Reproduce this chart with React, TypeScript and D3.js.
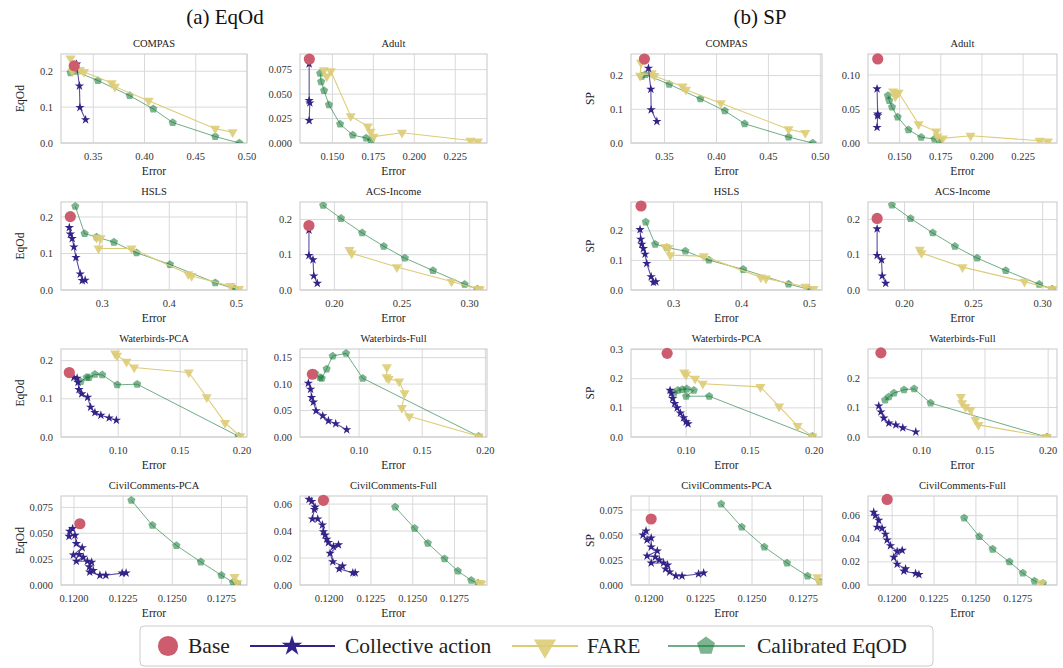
import * as d3 from "d3";

type Pt = [number, number];

// ---------- (a) EqOd ----------
const compasEqBase: Pt[] = [[0.3314, 0.215]];
const compasEqCA: Pt[] = [[0.3337, 0.22], [0.3365, 0.159], [0.337, 0.099], [0.3425, 0.065]];
const compasEqFare: Pt[] = [[0.3278, 0.236], [0.3295, 0.2], [0.337, 0.204], [0.341, 0.198], [0.368, 0.167], [0.371, 0.157], [0.404, 0.118], [0.469, 0.04], [0.486, 0.03]];
const compasEqCal: Pt[] = [[0.3278, 0.196], [0.3325, 0.2], [0.3545, 0.174], [0.3855, 0.132], [0.4085, 0.095], [0.4275, 0.057], [0.469, 0.018], [0.4925, 0.0]];

const adultEqBase: Pt[] = [[0.1359, 0.0858]];
const adultEqCA: Pt[] = [[0.1358, 0.081], [0.1358, 0.0435], [0.1362, 0.041], [0.1358, 0.023]];
const adultEqFare: Pt[] = [[0.1448, 0.0745], [0.1465, 0.068], [0.149, 0.0735], [0.1612, 0.0275], [0.1716, 0.017], [0.1733, 0.0115], [0.1752, 0.0065], [0.1925, 0.0105], [0.2343, 0.0025], [0.2388, 0.0015]];
const adultEqCal: Pt[] = [[0.1425, 0.0712], [0.1431, 0.0627], [0.1449, 0.0536], [0.1479, 0.039], [0.1547, 0.0193], [0.1624, 0.0081], [0.1706, 0.0051], [0.1736, 0.0024]];

const hslsEqBase: Pt[] = [[0.2524, 0.201]];
const hslsEqCA: Pt[] = [[0.2509, 0.171], [0.2525, 0.153], [0.2552, 0.141], [0.2578, 0.118], [0.2608, 0.089], [0.2672, 0.044], [0.2702, 0.026], [0.2745, 0.027]];
const hslsEqFare: Pt[] = [[0.2916, 0.1436], [0.2975, 0.142], [0.2945, 0.1136], [0.3437, 0.1136], [0.4283, 0.0436], [0.4333, 0.0385], [0.4913, 0.011], [0.504, 0.003]];
const hslsEqCal: Pt[] = [[0.2598, 0.229], [0.2737, 0.1545], [0.2916, 0.145], [0.3174, 0.131], [0.3512, 0.102], [0.401, 0.07], [0.4685, 0.02], [0.498, 0.0027]];

const acsEqBase: Pt[] = [[0.1812, 0.1829]];
const acsEqCA: Pt[] = [[0.1812, 0.17], [0.1812, 0.098], [0.1842, 0.086], [0.1848, 0.04], [0.1874, 0.019]];
const acsEqFare: Pt[] = [[0.2112, 0.114], [0.2128, 0.104], [0.2462, 0.065], [0.2866, 0.024], [0.3062, 0.003], [0.3075, 0.002]];
const acsEqCal: Pt[] = [[0.1917, 0.24], [0.2049, 0.203], [0.2205, 0.162], [0.2365, 0.124], [0.2521, 0.0905], [0.2729, 0.0552], [0.2963, 0.0162], [0.3057, 0.0029]];

const wbPcaEqBase: Pt[] = [[0.0605, 0.1687]];
const wbPcaEqCA: Pt[] = [[0.0642, 0.156], [0.0668, 0.154], [0.0675, 0.143], [0.0683, 0.124], [0.0705, 0.113], [0.0753, 0.104], [0.0777, 0.078], [0.0812, 0.064], [0.086, 0.057], [0.0927, 0.05], [0.0985, 0.044]];
const wbPcaEqFare: Pt[] = [[0.0975, 0.219], [0.099, 0.213], [0.1067, 0.197], [0.1129, 0.182], [0.157, 0.169], [0.1715, 0.104], [0.1863, 0.037], [0.1985, 0.002]];
const wbPcaEqCal: Pt[] = [[0.0697, 0.145], [0.0745, 0.1565], [0.0764, 0.1557], [0.0812, 0.1643], [0.0871, 0.1626], [0.0992, 0.1365], [0.1153, 0.1383], [0.1973, 0.0017]];

const wbFullEqBase: Pt[] = [[0.063, 0.1186]];
const wbFullEqCA: Pt[] = [[0.0598, 0.1016], [0.0616, 0.0903], [0.0624, 0.0747], [0.0638, 0.0659], [0.0659, 0.0496], [0.0712, 0.0401], [0.0757, 0.0307], [0.0815, 0.0251], [0.0902, 0.0138]];
const wbFullEqFare: Pt[] = [[0.122, 0.132], [0.1218, 0.113], [0.1235, 0.11], [0.1317, 0.105], [0.136, 0.083], [0.1339, 0.055], [0.1397, 0.039], [0.1947, 0.0013]];
const wbFullEqCal: Pt[] = [[0.0651, 0.1205], [0.0691, 0.1123], [0.0704, 0.111], [0.0743, 0.1286], [0.0791, 0.1531], [0.0897, 0.1581], [0.1029, 0.111], [0.1947, 0.0013]];

const ccPcaEqBase: Pt[] = [[0.1203, 0.0592]];
const ccPcaEqCA: Pt[] = [[0.11993, 0.0545], [0.11978, 0.052], [0.11975, 0.047], [0.12005, 0.048], [0.12012, 0.04], [0.12042, 0.036], [0.11997, 0.029], [0.12027, 0.0295], [0.12047, 0.0268], [0.12012, 0.023], [0.12068, 0.023], [0.1209, 0.022], [0.12078, 0.0175], [0.12098, 0.014], [0.1208, 0.0125], [0.12132, 0.0094], [0.12162, 0.0094], [0.12245, 0.0115], [0.12265, 0.0116]];
const ccPcaEqFare: Pt[] = [[0.12817, 0.0078], [0.1283, 0.0019]];
const ccPcaEqCal: Pt[] = [[0.12292, 0.0818], [0.12399, 0.0576], [0.12521, 0.0382], [0.12645, 0.0223], [0.1275, 0.0094], [0.12809, 0.0026], [0.1283, 0.0013]];

const ccFullEqBase: Pt[] = [[0.11966, 0.0628]];
const ccFullEqCA: Pt[] = [[0.1188, 0.0635], [0.11896, 0.062], [0.11916, 0.0578], [0.11912, 0.056], [0.119, 0.049], [0.11932, 0.049], [0.1196, 0.0445], [0.11966, 0.0395], [0.11976, 0.037], [0.11986, 0.034], [0.11996, 0.0315], [0.12026, 0.0285], [0.12056, 0.0298], [0.12006, 0.0235], [0.12022, 0.0173], [0.1208, 0.014], [0.1206, 0.012], [0.12142, 0.009], [0.12156, 0.009]];
const ccFullEqFare: Pt[] = [[0.12898, 0.0015], [0.1291, 0.001]];
const ccFullEqCal: Pt[] = [[0.12395, 0.0578], [0.12511, 0.042], [0.1259, 0.031], [0.1269, 0.0195], [0.1277, 0.0103], [0.1285, 0.0035], [0.1289, 0.0015]];

// ---------- (b) SP ----------
const compasSpBase: Pt[] = [[0.3306, 0.249]];
const compasSpCA: Pt[] = [[0.3345, 0.2217], [0.3368, 0.1596], [0.3371, 0.0985], [0.3426, 0.064]];
const compasSpFare: Pt[] = [[0.3274, 0.238], [0.3265, 0.2], [0.3377, 0.207], [0.3403, 0.199], [0.3674, 0.1675], [0.3706, 0.158], [0.4042, 0.118], [0.4694, 0.041], [0.4855, 0.03]];
const compasSpCal: Pt[] = [[0.328, 0.198], [0.3315, 0.203], [0.3545, 0.1744], [0.3845, 0.131], [0.408, 0.0956], [0.4271, 0.0571], [0.4694, 0.0177], [0.4926, 0]];

const adultSpBase: Pt[] = [[0.1367, 0.1234]];
const adultSpCA: Pt[] = [[0.1363, 0.0795], [0.1367, 0.0424], [0.1367, 0.04], [0.1363, 0.0229]];
const adultSpFare: Pt[] = [[0.146, 0.0756], [0.1474, 0.0683], [0.148, 0.0732], [0.1494, 0.0741], [0.1615, 0.0278], [0.1722, 0.0171], [0.173, 0.0098], [0.1762, 0.0068], [0.1931, 0.0107], [0.2351, 0.0034], [0.2401, 0.0024]];
const adultSpCal: Pt[] = [[0.1429, 0.0698], [0.1437, 0.0624], [0.1454, 0.0527], [0.1488, 0.038], [0.1554, 0.0195], [0.1631, 0.0083], [0.1712, 0.0059], [0.1742, 0.0034]];

const hslsSpBase: Pt[] = [[0.2521, 0.2843]];
const hslsSpCA: Pt[] = [[0.2506, 0.2045], [0.2516, 0.172], [0.2531, 0.155], [0.2555, 0.1404], [0.258, 0.1213], [0.2605, 0.0899], [0.2669, 0.0449], [0.2704, 0.0258], [0.2738, 0.028]];
const hslsSpFare: Pt[] = [[0.2877, 0.146], [0.2926, 0.1427], [0.2951, 0.118], [0.3444, 0.1146], [0.4284, 0.0427], [0.4358, 0.0393], [0.4941, 0.0112], [0.5059, 0.0034]];
const hslsSpCal: Pt[] = [[0.259, 0.2303], [0.2728, 0.155], [0.2901, 0.1438], [0.3173, 0.1315], [0.3519, 0.1011], [0.4025, 0.0697], [0.4691, 0.0202], [0.499, 0.0022]];

const acsSpBase: Pt[] = [[0.1802, 0.2029]];
const acsSpCA: Pt[] = [[0.1802, 0.1733], [0.1802, 0.098], [0.1834, 0.0857], [0.1839, 0.04], [0.1864, 0.019]];
const acsSpFare: Pt[] = [[0.2111, 0.1143], [0.2123, 0.1048], [0.242, 0.0648], [0.2869, 0.0238], [0.3069, 0.0029]];
const acsSpCal: Pt[] = [[0.1909, 0.241], [0.2044, 0.2029], [0.2205, 0.162], [0.2365, 0.1238], [0.2526, 0.0905], [0.2733, 0.0552], [0.2975, 0.0162], [0.3069, 0.0029]];

const wbPcaSpBase: Pt[] = [[0.0852, 0.287]];
const wbPcaSpCA: Pt[] = [[0.0875, 0.16], [0.0885, 0.15], [0.0895, 0.132], [0.091, 0.115], [0.093, 0.1], [0.0955, 0.082], [0.098, 0.066], [0.1, 0.052], [0.1015, 0.045]];
const wbPcaSpFare: Pt[] = [[0.0985, 0.222], [0.1, 0.215], [0.107, 0.2], [0.113, 0.183], [0.158, 0.172], [0.1725, 0.105], [0.187, 0.038], [0.1985, 0.002]];
const wbPcaSpCal: Pt[] = [[0.0905, 0.15], [0.0935, 0.16], [0.097, 0.163], [0.1005, 0.165], [0.106, 0.16], [0.1, 0.14], [0.118, 0.14], [0.1985, 0.002]];

const wbFullSpBase: Pt[] = [[0.0677, 0.285]];
const wbFullSpCA: Pt[] = [[0.066, 0.105], [0.0677, 0.085], [0.07, 0.064], [0.074, 0.047], [0.0795, 0.041], [0.085, 0.031], [0.0953, 0.017]];
const wbFullSpFare: Pt[] = [[0.131, 0.136], [0.132, 0.115], [0.1346, 0.102], [0.1386, 0.092], [0.1425, 0.058], [0.1449, 0.041], [0.199, 0.0]];
const wbFullSpCal: Pt[] = [[0.071, 0.125], [0.074, 0.136], [0.078, 0.149], [0.086, 0.16], [0.094, 0.163], [0.107, 0.115], [0.199, 0.0]];

const ccPcaSpBase: Pt[] = [[0.1201, 0.066]];
const ccPcaSpCA: Pt[] = [[0.11985, 0.054], [0.1197, 0.05], [0.1199, 0.045], [0.1201, 0.047], [0.1201, 0.038], [0.1204, 0.034], [0.1199, 0.029], [0.1203, 0.028], [0.1205, 0.025], [0.1201, 0.022], [0.1207, 0.022], [0.1209, 0.02], [0.1208, 0.016], [0.121, 0.013], [0.1213, 0.009], [0.1216, 0.009], [0.1224, 0.011], [0.12265, 0.012]];
const ccPcaSpFare: Pt[] = [[0.12817, 0.0078], [0.1283, 0.002]];
const ccPcaSpCal: Pt[] = [[0.1235, 0.081], [0.1245, 0.058], [0.1256, 0.038], [0.1267, 0.022], [0.1277, 0.009], [0.1283, 0.003]];

const ccFullSpBase: Pt[] = [[0.1197, 0.074]];
const ccFullSpCA: Pt[] = [[0.1189, 0.063], [0.119, 0.06], [0.1192, 0.056], [0.1191, 0.05], [0.1194, 0.049], [0.1196, 0.044], [0.1197, 0.039], [0.1199, 0.034], [0.1203, 0.029], [0.1206, 0.03], [0.1201, 0.024], [0.1203, 0.018], [0.1208, 0.014], [0.1207, 0.012], [0.1214, 0.01], [0.1216, 0.009]];
const ccFullSpFare: Pt[] = [[0.1289, 0.0015]];
const ccFullSpCal: Pt[] = [[0.1243, 0.058], [0.1252, 0.042], [0.126, 0.031], [0.127, 0.02], [0.1278, 0.0103], [0.1285, 0.0035], [0.129, 0.0015]];

interface Panel {
  title: string;
  metric: string;
  col: number;
  row: number;
  xDomain: [number, number];
  yDomain: [number, number];
  xTicks: number[];
  yTicks: number[];
  xFmt: string;
  yFmt: string;
  base: Pt[];
  ca: Pt[];
  fare: Pt[];
  cal: Pt[];
}

const ticksCompas = [0.35, 0.4, 0.45, 0.5];
const ticksAdult = [0.15, 0.175, 0.2, 0.225];
const ticksHsls = [0.3, 0.4, 0.5];
const ticksAcs = [0.2, 0.25, 0.3];
const ticksWb = [0.1, 0.15, 0.2];
const ticksCc = [0.12, 0.1225, 0.125, 0.1275];

const panels: Panel[] = [
  { title: "COMPAS", metric: "EqOd", col: 0, row: 0, xDomain: [0.3185, 0.5], yDomain: [0, 0.248], xTicks: ticksCompas, yTicks: [0, 0.1, 0.2], xFmt: ".2f", yFmt: ".1f", base: compasEqBase, ca: compasEqCA, fare: compasEqFare, cal: compasEqCal },
  { title: "Adult", metric: "EqOd", col: 1, row: 0, xDomain: [0.1302, 0.2444], yDomain: [0, 0.091], xTicks: ticksAdult, yTicks: [0, 0.025, 0.05, 0.075], xFmt: ".3f", yFmt: ".3f", base: adultEqBase, ca: adultEqCA, fare: adultEqFare, cal: adultEqCal },
  { title: "HSLS", metric: "EqOd", col: 0, row: 1, xDomain: [0.2385, 0.5159], yDomain: [0, 0.241], xTicks: ticksHsls, yTicks: [0, 0.1, 0.2], xFmt: ".1f", yFmt: ".1f", base: hslsEqBase, ca: hslsEqCA, fare: hslsEqFare, cal: hslsEqCal },
  { title: "ACS-Income", metric: "EqOd", col: 1, row: 1, xDomain: [0.1746, 0.3128], yDomain: [0, 0.2495], xTicks: ticksAcs, yTicks: [0, 0.1, 0.2], xFmt: ".2f", yFmt: ".1f", base: acsEqBase, ca: acsEqCA, fare: acsEqFare, cal: acsEqCal },
  { title: "Waterbirds-PCA", metric: "EqOd", col: 0, row: 2, xDomain: [0.0538, 0.204], yDomain: [0, 0.2304], xTicks: ticksWb, yTicks: [0, 0.1, 0.2], xFmt: ".2f", yFmt: ".1f", base: wbPcaEqBase, ca: wbPcaEqCA, fare: wbPcaEqFare, cal: wbPcaEqCal },
  { title: "Waterbirds-Full", metric: "EqOd", col: 1, row: 2, xDomain: [0.0532, 0.2013], yDomain: [0, 0.1663], xTicks: ticksWb, yTicks: [0, 0.05, 0.1, 0.15], xFmt: ".2f", yFmt: ".2f", base: wbFullEqBase, ca: wbFullEqCA, fare: wbFullEqFare, cal: wbFullEqCal },
  { title: "CivilComments-PCA", metric: "EqOd", col: 0, row: 3, xDomain: [0.11934, 0.1288], yDomain: [0, 0.086], xTicks: ticksCc, yTicks: [0, 0.025, 0.05, 0.075], xFmt: ".4f", yFmt: ".3f", base: ccPcaEqBase, ca: ccPcaEqCA, fare: ccPcaEqFare, cal: ccPcaEqCal },
  { title: "CivilComments-Full", metric: "EqOd", col: 1, row: 3, xDomain: [0.11826, 0.12944], yDomain: [0, 0.066], xTicks: ticksCc, yTicks: [0, 0.02, 0.04, 0.06], xFmt: ".4f", yFmt: ".2f", base: ccFullEqBase, ca: ccFullEqCA, fare: ccFullEqFare, cal: ccFullEqCal },
  { title: "COMPAS", metric: "SP", col: 2, row: 0, xDomain: [0.3177, 0.5016], yDomain: [0, 0.264], xTicks: ticksCompas, yTicks: [0, 0.1, 0.2], xFmt: ".2f", yFmt: ".1f", base: compasSpBase, ca: compasSpCA, fare: compasSpFare, cal: compasSpCal },
  { title: "Adult", metric: "SP", col: 3, row: 0, xDomain: [0.1308, 0.2456], yDomain: [0, 0.1307], xTicks: ticksAdult, yTicks: [0, 0.05, 0.1], xFmt: ".3f", yFmt: ".2f", base: adultSpBase, ca: adultSpCA, fare: adultSpFare, cal: adultSpCal },
  { title: "HSLS", metric: "SP", col: 2, row: 1, xDomain: [0.2373, 0.5183], yDomain: [0, 0.2978], xTicks: ticksHsls, yTicks: [0, 0.1, 0.2], xFmt: ".1f", yFmt: ".1f", base: hslsSpBase, ca: hslsSpCA, fare: hslsSpFare, cal: hslsSpCal },
  { title: "ACS-Income", metric: "SP", col: 3, row: 1, xDomain: [0.1736, 0.3104], yDomain: [0, 0.2495], xTicks: ticksAcs, yTicks: [0, 0.1, 0.2], xFmt: ".2f", yFmt: ".1f", base: acsSpBase, ca: acsSpCA, fare: acsSpFare, cal: acsSpCal },
  { title: "Waterbirds-PCA", metric: "SP", col: 2, row: 2, xDomain: [0.057, 0.206], yDomain: [0, 0.302], xTicks: ticksWb, yTicks: [0, 0.1, 0.2, 0.3], xFmt: ".2f", yFmt: ".1f", base: wbPcaSpBase, ca: wbPcaSpCA, fare: wbPcaSpFare, cal: wbPcaSpCal },
  { title: "Waterbirds-Full", metric: "SP", col: 3, row: 2, xDomain: [0.0575, 0.207], yDomain: [0, 0.298], xTicks: ticksWb, yTicks: [0, 0.1, 0.2], xFmt: ".2f", yFmt: ".1f", base: wbFullSpBase, ca: wbFullSpCA, fare: wbFullSpFare, cal: wbFullSpCal },
  { title: "CivilComments-PCA", metric: "SP", col: 2, row: 3, xDomain: [0.11912, 0.1284], yDomain: [0, 0.089], xTicks: ticksCc, yTicks: [0, 0.025, 0.05, 0.075], xFmt: ".4f", yFmt: ".3f", base: ccPcaSpBase, ca: ccPcaSpCA, fare: ccPcaSpFare, cal: ccPcaSpCal },
  { title: "CivilComments-Full", metric: "SP", col: 3, row: 3, xDomain: [0.11856, 0.12984], yDomain: [0, 0.077], xTicks: ticksCc, yTicks: [0, 0.02, 0.04, 0.06], xFmt: ".4f", yFmt: ".2f", base: ccFullSpBase, ca: ccFullSpCA, fare: ccFullSpFare, cal: ccFullSpCal },
];

const legendItems = ["Base", "Collective action", "FARE", "Calibrated EqOD"];

const FONT = "'Liberation Serif', 'DejaVu Serif', serif";
const C_BASE = "#cd5c6e";
const C_CA = "#332288";
const C_FARE = "#DDCC77";
const C_CAL = "#117733";

const colLeft = [61, 300, 631, 868];
const colRight = [247, 487, 822, 1057];
const rowTop = [54, 202, 349, 496];
const rowBottom = [143, 290, 437, 585];

const starPath = d3.symbol(d3.symbolStar, 27)()!;
const triPath = d3.symbol(d3.symbolTriangle, 44)()!;

function pentagon(r: number) {
  const pts = d3.range(5).map((i) => {
    const a = -Math.PI / 2 + (i * 2 * Math.PI) / 5;
    return [r * Math.cos(a), r * Math.sin(a)] as [number, number];
  });
  return d3.line()(pts) + "Z";
}
const pentPath = pentagon(4.3);

function Marker({ kind, cx, cy, scale = 1 }: { kind: string; cx: number; cy: number; scale?: number }) {
  const t = `translate(${cx},${cy}) scale(${scale})`;
  if (kind === "base") return <circle cx={cx} cy={cy} r={5.6 * scale} fill={C_BASE} />;
  if (kind === "ca") return <path d={starPath} transform={t} fill={C_CA} />;
  if (kind === "fare")
    return <path d={triPath} transform={`${t} rotate(180)`} fill={C_FARE} fillOpacity={0.9} />;
  return <path d={pentPath} transform={t} fill={C_CAL} fillOpacity={0.55} />;
}

function PanelView({ p, idx }: { p: Panel; idx: number }) {
  const x0 = colLeft[p.col];
  const x1 = colRight[p.col];
  const y0 = rowTop[p.row];
  const y1 = rowBottom[p.row];
  const x = d3.scaleLinear().domain(p.xDomain).range([x0, x1]);
  const y = d3.scaleLinear().domain(p.yDomain).range([y1, y0]);
  const line = d3.line<Pt>().x((d) => x(d[0])).y((d) => y(d[1]));
  const fx = d3.format(p.xFmt);
  const fy = d3.format(p.yFmt);
  const clipId = `clip-${idx}`;
  const showY = p.col === 0 || p.col === 2;
  return (
    <g>
      <defs>
        <clipPath id={clipId}>
          <rect x={x0} y={y0} width={x1 - x0} height={y1 - y0} />
        </clipPath>
      </defs>
      {p.xTicks.map((t) => (
        <line key={"gx" + t} x1={x(t)} x2={x(t)} y1={y0} y2={y1} stroke="#d9d9d9" strokeWidth={1} />
      ))}
      {p.yTicks.map((t) => (
        <line key={"gy" + t} x1={x0} x2={x1} y1={y(t)} y2={y(t)} stroke="#d9d9d9" strokeWidth={1} />
      ))}
      <rect x={x0} y={y0} width={x1 - x0} height={y1 - y0} fill="none" stroke="#cccccc" strokeWidth={1.1} />
      <g clipPath={`url(#${clipId})`}>
        <path d={line(p.cal)!} fill="none" stroke={C_CAL} strokeOpacity={0.6} strokeWidth={1} />
        {p.cal.map((d, i) => (
          <Marker key={"c" + i} kind="cal" cx={x(d[0])} cy={y(d[1])} />
        ))}
        <path d={line(p.fare)!} fill="none" stroke={C_FARE} strokeWidth={1.1} />
        {p.fare.map((d, i) => (
          <Marker key={"f" + i} kind="fare" cx={x(d[0])} cy={y(d[1])} />
        ))}
        <path d={line(p.ca)!} fill="none" stroke={C_CA} strokeOpacity={0.8} strokeWidth={1.1} />
        {p.ca.map((d, i) => (
          <Marker key={"a" + i} kind="ca" cx={x(d[0])} cy={y(d[1])} />
        ))}
      </g>
      {p.base.map((d, i) => (
        <Marker key={"b" + i} kind="base" cx={x(d[0])} cy={y(d[1])} />
      ))}
      <text x={(x0 + x1) / 2} y={y0 - 7} textAnchor="middle" fontSize={10.5} fill="#222">
        {p.title}
      </text>
      {p.xTicks.map((t) => (
        <text key={"tx" + t} x={x(t)} y={y1 + 17} textAnchor="middle" fontSize={10.5} fill="#333">
          {fx(t)}
        </text>
      ))}
      {p.yTicks.map((t) => (
        <text key={"ty" + t} x={x0 - 8} y={y(t) + 3.6} textAnchor="end" fontSize={10.5} fill="#333">
          {fy(t)}
        </text>
      ))}
      <text x={(x0 + x1) / 2} y={y1 + 32} textAnchor="middle" fontSize={11.5} fill="#222">
        Error
      </text>
      {showY && (
        <text
          transform={`translate(${x0 - 37},${(y0 + y1) / 2}) rotate(-90)`}
          textAnchor="middle"
          fontSize={11.5}
          fill="#222"
        >
          {p.metric}
        </text>
      )}
    </g>
  );
}

function Legend() {
  const cy = 646;
  const handles = [
    { kind: "base", lx: [150, 186], mx: 168, tx: 188 },
    { kind: "ca", lx: [250, 335], mx: 292, tx: 345 },
    { kind: "fare", lx: [512, 578], mx: 545, tx: 587 },
    { kind: "cal", lx: [668, 745], mx: 706, tx: 757 },
  ];
  const colors: Record<string, string> = { ca: C_CA, fare: C_FARE, cal: C_CAL };
  return (
    <g>
      <rect x={140} y={626} width={793} height={40} rx={4} fill="white" stroke="#cccccc" strokeWidth={1} />
      {handles.map((h, i) => (
        <g key={h.kind}>
          {h.kind !== "base" && (
            <line
              x1={h.lx[0]}
              x2={h.lx[1]}
              y1={cy}
              y2={cy}
              stroke={colors[h.kind]}
              strokeOpacity={h.kind === "cal" ? 0.6 : 1}
              strokeWidth={2.2}
            />
          )}
          <Marker kind={h.kind} cx={h.mx} cy={cy} scale={h.kind === "base" ? 1.8 : 2.2} />
          <text x={h.tx} y={cy + 7} fontSize={21.5} fill="#222">
            {legendItems[i]}
          </text>
        </g>
      ))}
    </g>
  );
}

export default function App() {
  return (
    <svg width={1063} height={668} style={{ position: "absolute", left: 0, top: 0, background: "white" }} fontFamily={FONT}>
      <rect width={1063} height={668} fill="white" />
      <text x={225} y={24} textAnchor="middle" fontSize={21} fill="#111">
        (a) EqOd
      </text>
      <text x={760} y={24} textAnchor="middle" fontSize={21} fill="#111">
        (b) SP
      </text>
      {panels.map((p, i) => (
        <PanelView key={i} p={p} idx={i} />
      ))}
      <Legend />
    </svg>
  );
}
